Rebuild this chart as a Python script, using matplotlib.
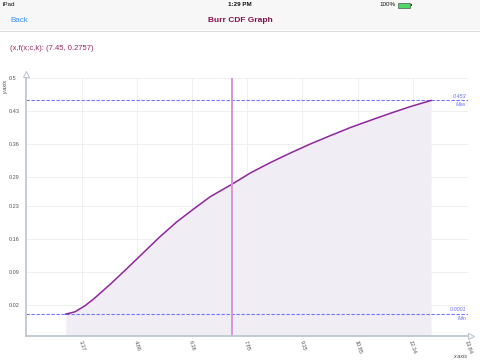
import matplotlib
matplotlib.use("Agg")
import matplotlib.pyplot as plt
from matplotlib.patches import Rectangle
from matplotlib.lines import Line2D

plt.rcParams['font.family'] = ['Liberation Sans', 'DejaVu Sans']

W, H = 480, 360

# values
x_vals = [2.94, 3.19, 3.46, 3.69, 4.14, 4.59, 5.04, 5.49, 5.95, 6.40, 6.85,
          7.45, 7.95, 8.49, 9.04, 9.58, 10.12, 10.66, 11.21, 11.75, 12.29, 12.84]
y_vals = [0.0001, 0.0050, 0.0178, 0.0319, 0.0630, 0.0962, 0.1301, 0.1640,
          0.1958, 0.2227, 0.2488, 0.2757, 0.2997, 0.3216, 0.3421, 0.3612,
          0.3788, 0.3958, 0.4113, 0.4262, 0.4403, 0.453]

x_ticks = [3.37, 4.86, 6.36, 7.85, 9.35, 10.85, 12.34, 13.84]
x_tick_labels = ['3.37', '4.86', '6.36', '7.85', '9.35', '10.85', '12.34', '13.84']
y_ticks = [0.02, 0.09, 0.16, 0.23, 0.29, 0.36, 0.43, 0.5]
y_tick_labels = ['0.02', '0.09', '0.16', '0.23', '0.29', '0.36', '0.43', '0.5']

sel_x, sel_y = 7.45, 0.2757
y_min_val, y_max_val = 0.0001, 0.453
xlim = (1.869, 13.84)
ylim = (-0.0457, 0.5)

fig = plt.figure(figsize=(4.8, 3.6), dpi=100)
fig.patch.set_facecolor('white')


def px(x, y):
    # pixel position -> figure fraction
    return x / W, 1 - y / H


def ftext(x, y, s, **kw):
    fx, fy = px(x, y)
    fig.text(fx, fy, s, **kw)


# status bar + navigation bar
fig.patches.append(Rectangle((0, 1 - 30 / H), 1, 30 / H, transform=fig.transFigure,
                             facecolor='#f7f7f7', edgecolor='none', zorder=0))
fig.lines.append(Line2D([0, 1], [1 - 30.5 / H] * 2, transform=fig.transFigure,
                        color='#d6d6d6', lw=0.6))
ftext(3, 5, 'iPad', fontsize=4.5, va='center', color='#111111')
ftext(240, 5, '1:29 PM', fontsize=4.5, va='center', ha='center', weight='bold', color='#111111')
ftext(396, 5, '100%', fontsize=4.5, va='center', ha='right', color='#111111')
fig.patches.append(Rectangle(px(398, 7.5), 12 / W, 5 / H, transform=fig.transFigure,
                             facecolor='#4cd964', edgecolor='#333333', lw=0.4))
fig.patches.append(Rectangle(px(410.5, 6.2), 1.2 / W, 2.4 / H, transform=fig.transFigure,
                             facecolor='#333333', edgecolor='none'))
ftext(10, 20, 'Back', fontsize=5.8, va='center', color='#3d8ff0')
ftext(240, 20, 'Burr CDF Graph', fontsize=6, va='center', ha='center',
      weight='bold', color='#86114f')
ftext(10, 48.5, '(x,f(x;c,k): (%.2f, %.4f)' % (sel_x, sel_y), fontsize=5.5,
      va='center', color='#96245f')

# chart area
left, right, top, bottom = 26.3, 468, 78.3, 335.7
ax = fig.add_axes([left / W, (H - bottom) / H, (right - left) / W, (bottom - top) / H])
ax.set_xlim(*xlim)
ax.set_ylim(*ylim)

ax.fill_between(x_vals, y_vals, ylim[0], color='#f0edf4', lw=0, zorder=1)
ax.set_xticks(x_ticks)
ax.set_xticklabels(x_tick_labels)
ax.set_yticks(y_ticks)
ax.set_yticklabels(y_tick_labels)
ax.grid(True, color='#ececec', lw=0.6, zorder=0)
ax.set_axisbelow(True)

ax.axhline(y_max_val, color='#7474ff', lw=0.8, ls=(0, (3, 1.5)), zorder=3)
ax.axhline(y_min_val, color='#7474ff', lw=0.8, ls=(0, (3, 1.5)), zorder=3)
ax.plot(x_vals, y_vals, color='#8e259c', lw=1.1, zorder=4)
ax.axvline(sel_x, color='#d596d9', lw=1.4, zorder=5)

tr = ax.get_yaxis_transform()
ann = dict(fontsize=4, style='italic', color='#6b6bff', ha='right', transform=tr)
ax.text(0.997, y_max_val + 0.004, '0.453', va='bottom', **ann)
ax.text(0.997, y_max_val - 0.003, 'Max', va='top', **ann)
ax.text(0.997, y_min_val + 0.004, '0.0001', va='bottom', **ann)
ax.text(0.997, y_min_val - 0.003, 'Min', va='top', **ann)

for s in ['top', 'right']:
    ax.spines[s].set_visible(False)
for s in ['left', 'bottom']:
    ax.spines[s].set_color('#bcc8d0')
    ax.spines[s].set_linewidth(1.3)
    ax.spines[s].set_zorder(6)

ax.tick_params(axis='both', length=0, labelsize=4, labelcolor='#555555')
ax.tick_params(axis='y', pad=12.5)
for lab in ax.get_yticklabels():
    lab.set_ha('left')
ax.tick_params(axis='x', pad=3)
for lab in ax.get_xticklabels():
    lab.set_rotation(-72)

# axis arrows
ax.plot([0], [1.018], marker='^', ms=4, mfc='white', mec='#bcc8d0', mew=0.8,
        transform=ax.transAxes, clip_on=False, zorder=7)
ax.plot([1.006], [0], marker='>', ms=4, mfc='white', mec='#bcc8d0', mew=0.8,
        transform=ax.transAxes, clip_on=False, zorder=7)

ftext(6, 87, 'y axis', fontsize=4, rotation=90, style='italic', ha='center',
      va='center', color='#444444')
ftext(460, 356, 'x axis', fontsize=4, style='italic', ha='center', va='center',
      color='#444444')

fig.savefig('out.png', dpi=100)
